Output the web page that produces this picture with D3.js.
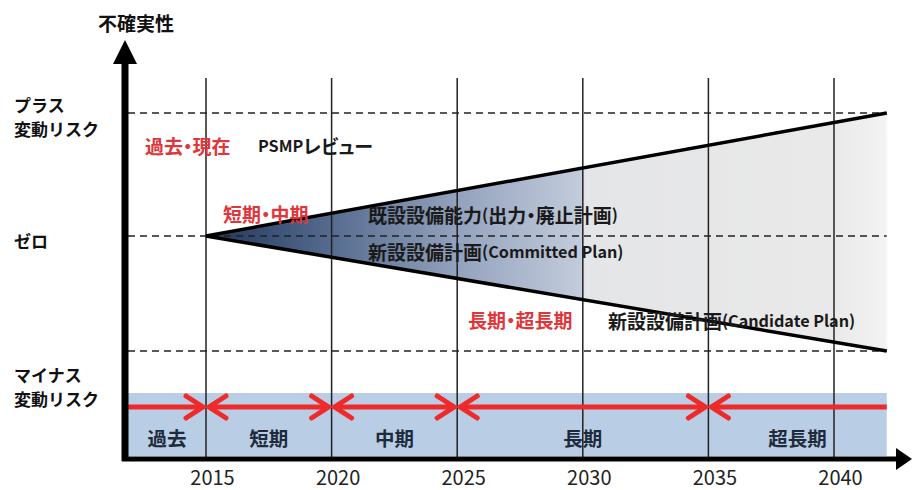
<!DOCTYPE html>
<html>
<head>
<meta charset="utf-8">
<script src="https://cdn.jsdelivr.net/npm/d3@7"></script>
<style>
  html, body { margin: 0; padding: 0; background: #fff; }
  svg { display: block; }
  text { font-family: "Noto Sans CJK JP", "Noto Sans", sans-serif; }
</style>
</head>
<body>
<svg id="chart" width="912" height="490"></svg>
<script>
// ---------------- data ----------------
const years = [2015, 2020, 2025, 2030, 2035, 2040];
const levels = [1, 0, -1];
const levelLabels = [["プラス", "変動リスク"], ["ゼロ"], ["マイナス", "変動リスク"]];
const axisTitle = "不確実性";

const periodNames = ["過去", "短期", "中期", "長期", "超長期"];
const periodStart = [2011.9, 2015, 2020, 2025, 2035];
const periodEnd   = [2015, 2020, 2025, 2035, 2042.1];
const headAtStart = [false, true, true, true, true];
const headAtEnd   = [true, true, true, true, false];

const coneYears = [2015, 2042.1];
const coneUpper = [0, 1];
const coneLower = [0, -1];
const shadeSplitYear = 2030;

const noteTexts  = ["過去・現在", "PSMPレビュー", "短期・中期", "既設設備能力(出力・廃止計画)",
                    "新設設備計画(Committed Plan)", "長期・超長期", "新設設備計画(Candidate Plan)"];
const noteYears  = [2012.57, 2017.07, 2015.68, 2021.45, 2021.45, 2025.43, 2031.0];
const noteLevels = [0.74, 0.74, 0.19, 0.18, -0.13, -0.72, -0.73];
const noteRed    = [true, false, true, false, false, true, false];

// ---------------- layout ----------------
const svg = d3.select("#chart");
const axisX = 125, axisY = 459;
const gridTop = 78;
const bandTop = 393, bandBottom = 456, arrowY = 407;

const x = d3.scaleLinear().domain([2015, 2040]).range([206, 834]);
const y = d3.scaleLinear().domain([-1, 0, 1]).range([351, 236, 113]);

const RED = "#ee2a2a";
const RED_TEXT = "#e0353b";
const INK = "#1a1a1a";

// defs
const defs = svg.append("defs");
const x0 = x(coneYears[0]), x1 = x(coneYears[1]);
const split = (x(shadeSplitYear) - x0) / (x1 - x0);
const grad = defs.append("linearGradient").attr("id", "coneGrad")
  .attr("gradientUnits", "userSpaceOnUse")
  .attr("x1", x0).attr("x2", x1).attr("y1", 0).attr("y2", 0);
[
  [0, "#1f355a"],
  [split * 0.33, "#556b8e"],
  [split * 0.66, "#92a1bc"],
  [split, "#c3ccdc"],
  [split + 0.001, "#e4e5e7"],
  [0.92, "#e9e9e9"],
  [1, "#f3f3f3"]
].forEach(([o, c]) => grad.append("stop").attr("offset", o).attr("stop-color", c));

const soft = defs.append("filter").attr("id", "soft").attr("x", "-5%").attr("y", "-10%").attr("width", "110%").attr("height", "130%");
soft.append("feGaussianBlur").attr("stdDeviation", 1.2);

// background band
svg.append("rect")
  .attr("x", axisX + 3).attr("y", bandTop)
  .attr("width", x(periodEnd[periodEnd.length - 1]) - axisX - 3)
  .attr("height", bandBottom - bandTop)
  .attr("fill", "#b9cde4");

// cone fill
const conePts = [
  [x(coneYears[0]), y(coneUpper[0])],
  [x(coneYears[1]), y(coneUpper[1])],
  [x(coneYears[1]), y(coneLower[1])]
];
svg.append("path")
  .attr("d", d3.line()(conePts) + "Z")
  .attr("fill", "url(#coneGrad)")
  .attr("filter", "url(#soft)");

// vertical year lines
svg.append("g").selectAll("line").data(years).join("line")
  .attr("x1", d => x(d)).attr("x2", d => x(d))
  .attr("y1", gridTop).attr("y2", axisY)
  .attr("stroke", "#222").attr("stroke-width", 1.5);

// dashed level lines
svg.append("g").selectAll("line").data(levels).join("line")
  .attr("x1", axisX + 3).attr("x2", x(coneYears[1]))
  .attr("y1", d => y(d)).attr("y2", d => y(d))
  .attr("stroke", "#222").attr("stroke-width", 1.5)
  .attr("stroke-dasharray", "7,5");

// cone boundary lines
const lineGen = d3.line().x(d => x(d[0])).y(d => y(d[1]));
[coneUpper, coneLower].forEach(vals => {
  svg.append("path")
    .attr("d", lineGen(coneYears.map((yr, i) => [yr, vals[i]])))
    .attr("fill", "none").attr("stroke", "#000").attr("stroke-width", 3.5);
});

// period arrows
const arrows = svg.append("g");
periodNames.forEach((name, i) => {
  const xs = x(periodStart[i]), xe = x(periodEnd[i]);
  arrows.append("line")
    .attr("x1", xs + (headAtStart[i] ? 3 : 0)).attr("x2", xe - (headAtEnd[i] ? 3 : 0))
    .attr("y1", arrowY).attr("y2", arrowY)
    .attr("stroke", RED).attr("stroke-width", 5);
  if (headAtEnd[i]) {
    arrows.append("polyline")
      .attr("points", [[xe - 20, arrowY - 11], [xe - 3, arrowY], [xe - 20, arrowY + 11]].join(" "))
      .attr("fill", "none").attr("stroke", RED).attr("stroke-width", 5)
      .attr("stroke-linejoin", "miter").attr("stroke-linecap", "round");
  }
  if (headAtStart[i]) {
    arrows.append("polyline")
      .attr("points", [[xs + 20, arrowY - 11], [xs + 3, arrowY], [xs + 20, arrowY + 11]].join(" "))
      .attr("fill", "none").attr("stroke", RED).attr("stroke-width", 5)
      .attr("stroke-linejoin", "miter").attr("stroke-linecap", "round");
  }
  arrows.append("text")
    .attr("x", (xs + xe) / 2)
    .attr("y", 437)
    .attr("text-anchor", "middle").attr("dominant-baseline", "central")
    .attr("font-size", 19.5).attr("font-weight", 700).attr("fill", "#1d2b3c")
    .text(name);
});

// annotations (CJK runs larger, ASCII runs slightly smaller, proportional punctuation)
const notes = svg.append("g");
noteTexts.forEach((s, i) => {
  const t = notes.append("text")
    .attr("x", x(noteYears[i]))
    .attr("y", y(noteLevels[i]))
    .attr("dominant-baseline", "central")
    .attr("font-size", 19)
    .attr("font-weight", 700)
    .style("font-feature-settings", "'palt' 1")
    .attr("fill", noteRed[i] ? RED_TEXT : INK);
  s.match(/[\x20-\x7e]+|[^\x20-\x7e]+/g).forEach(run => {
    const ascii = /^[\x20-\x7e]+$/.test(run);
    t.append("tspan").attr("font-size", ascii ? 16.2 : 19).text(run);
  });
});

// level labels on the left
const lvl = svg.append("g");
levels.forEach((lv, i) => {
  const lines = levelLabels[i];
  const lh = 24.6;
  const cy = y(lv) + (lv === 0 ? 4 : (lv > 0 ? 3 : 35));
  const t = lvl.append("text")
    .attr("font-size", 17).attr("font-weight", 700).attr("fill", "#111")
    .attr("dominant-baseline", "central");
  lines.forEach((s, k) => {
    t.append("tspan").attr("x", 14)
      .attr("y", cy + (k - (lines.length - 1) / 2) * lh)
      .text(s);
  });
});

// axes
svg.append("line")
  .attr("x1", axisX).attr("x2", axisX).attr("y1", 60).attr("y2", axisY + 2)
  .attr("stroke", "#000").attr("stroke-width", 7);
svg.append("path")
  .attr("d", d3.line()([[axisX, 40], [axisX - 12, 64], [axisX + 12, 64]]) + "Z")
  .attr("fill", "#000");
svg.append("line")
  .attr("x1", axisX - 3).attr("x2", 898).attr("y1", axisY).attr("y2", axisY)
  .attr("stroke", "#000").attr("stroke-width", 5);
svg.append("path")
  .attr("d", d3.line()([[912, axisY], [896, axisY - 11], [896, axisY + 11]]) + "Z")
  .attr("fill", "#000");

svg.append("text")
  .attr("x", 136).attr("y", 22)
  .attr("text-anchor", "middle").attr("dominant-baseline", "central")
  .attr("font-size", 19).attr("font-weight", 700).attr("fill", "#111")
  .text(axisTitle);

// year axis labels
const xAxis = d3.axisBottom(x).tickValues(years).tickFormat(d3.format("d")).tickSize(0).tickPadding(12);
const gx = svg.append("g").attr("transform", `translate(0,${axisY})`).call(xAxis);
gx.select(".domain").remove();
gx.selectAll("text")
  .attr("dx", 6)
  .attr("font-family", "'Liberation Sans', Arial, sans-serif")
  .attr("font-size", 20)
  .attr("fill", "#222");
</script>
</body>
</html>
